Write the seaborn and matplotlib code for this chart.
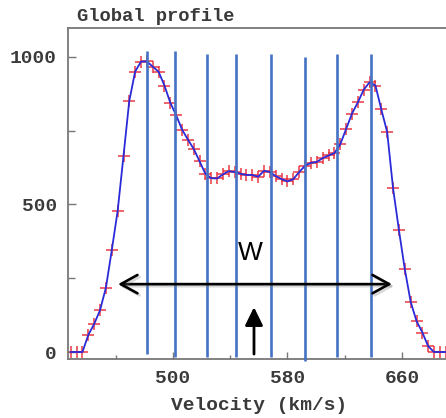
import matplotlib
matplotlib.use("Agg")
import matplotlib.patheffects as pe
import matplotlib.pyplot as plt
import pandas as pd
import seaborn as sns

# HI global profile, channel velocities (km/s) and flux
velocity = [428.5, 432.6, 436.7, 440.8, 444.9, 449.0, 453.1, 457.2, 461.3, 465.4,
            469.4, 473.5, 477.6, 481.7, 485.8, 489.9, 494.0, 498.1, 502.2, 506.3,
            510.4, 514.5, 518.6, 522.6, 526.7, 530.8, 534.9, 539.0, 543.1, 547.2,
            551.3, 555.4, 559.5, 563.6, 567.7, 571.8, 575.9, 580.0, 584.1, 588.2,
            592.3, 596.4, 600.5, 604.6, 608.7, 612.8, 616.9, 621.0, 625.1, 629.2,
            633.3, 637.4, 641.5, 645.6, 649.7, 653.8, 657.9, 662.0, 666.1, 670.2,
            674.3, 678.3, 682.4, 686.5, 690.6]
flux = [0, 0, 0, 58, 95, 142, 218, 345, 478, 665,
        850, 950, 984, 985, 967, 950, 903, 845, 802, 754,
        720, 688, 646, 604, 589, 588, 602, 613, 610, 604,
        600, 600, 594, 614, 610, 596, 586, 578, 586, 610,
        631, 641, 644, 657, 666, 674, 704, 756, 808, 846,
        889, 914, 903, 822, 745, 555, 413, 281, 170, 105,
        66, 20, 0, 0, 0]

# vertical cuts across the profile
cut_velocity = [481.8, 501.4, 523.8, 544.0, 568.5, 592.2, 614.6, 638.4]
cut_top = [1020, 1020, 1010, 1010, 1010, 1000, 1010, 1010]
cut_bottom = [-7, -17, -17, -17, -17, -30, -17, -17]

# width annotation and systemic velocity marker
width_start, width_end, width_level = 461.6, 653.0, 230
center_velocity, center_base, center_tip = 556.6, -7, 152

x_major = [500, 580, 660]
x_minor = [460, 540, 620]
y_major = [0, 500, 1000]
y_minor = [250, 750]

df = pd.DataFrame({"velocity": velocity, "flux": flux})

sns.set_theme(style="white")
plt.rcParams["font.family"] = ["Liberation Mono", "DejaVu Sans"]

fig = plt.figure(figsize=(4.46, 4.18), dpi=100)
ax = fig.add_axes([68 / 446, 59 / 418, 382 / 446, 331 / 418])

sns.scatterplot(data=df, x="velocity", y="flux", marker="+", s=70,
                color="#e8303a", linewidth=1.4, alpha=0.75, ax=ax, zorder=2)
sns.lineplot(data=df, x="velocity", y="flux", color="#2a2ad8", linewidth=1.3,
             ax=ax, zorder=3)

ax.vlines(cut_velocity, cut_bottom, cut_top, color="#4472c4", linewidth=1.9,
          zorder=4, clip_on=False)

shadow = [pe.SimpleLineShadow(offset=(1.5, -1.5), shadow_color="gray", alpha=0.3),
          pe.Normal()]
w_arrow = ax.annotate("", xy=(width_end, width_level), xytext=(width_start, width_level),
                      arrowprops=dict(arrowstyle="<->, head_length=0.6, head_width=0.33",
                                      color="black", lw=1.9, mutation_scale=20,
                                      shrinkA=0, shrinkB=0), zorder=5)
w_arrow.arrow_patch.set_path_effects(shadow)
ax.text((width_start + width_end) / 2 - 3, 336, "W", ha="center", va="center",
        fontsize=19, family="Liberation Sans", color="black", zorder=5)
ax.annotate("", xy=(center_velocity, center_tip), xytext=(center_velocity, center_base),
            arrowprops=dict(arrowstyle="-|>, head_length=0.55, head_width=0.27",
                            color="black", lw=2.0, mutation_scale=20,
                            shrinkA=0, shrinkB=0), zorder=5)

ax.set_xlim(426.6, 693.6)
ax.set_ylim(-23.7, 1098)
ax.set_xticks(x_major)
ax.set_xticks(x_minor, minor=True)
ax.set_yticks(y_major)
ax.set_yticks(y_minor, minor=True)
ax.tick_params(which="both", direction="in", color="#777777", width=1.0,
               labelsize=14, labelcolor="#3a3a3a", top=False, right=False,
               bottom=True, left=True)
ax.tick_params(axis="y", which="major", length=6, pad=8)
ax.tick_params(axis="y", which="minor", length=5)
ax.tick_params(axis="x", which="major", length=5, pad=8)
ax.tick_params(axis="x", which="minor", length=3)
for lbl in ax.get_xticklabels() + ax.get_yticklabels():
    lbl.set_fontweight("bold")

for side in ["left", "bottom", "top"]:
    ax.spines[side].set_color("#777777")
    ax.spines[side].set_linewidth(1.3)
ax.spines["right"].set_visible(False)

ax.set_xlabel("Velocity (km/s)", fontsize=14, fontweight="bold", color="#3a3a3a",
              labelpad=7)
ax.set_ylabel("")
fig.text(77 / 446, 1 - 21 / 418, "Global profile", fontsize=13.5,
         fontweight="bold", color="#3a3a3a", va="baseline", ha="left")

fig.savefig("out.png", dpi=100)
